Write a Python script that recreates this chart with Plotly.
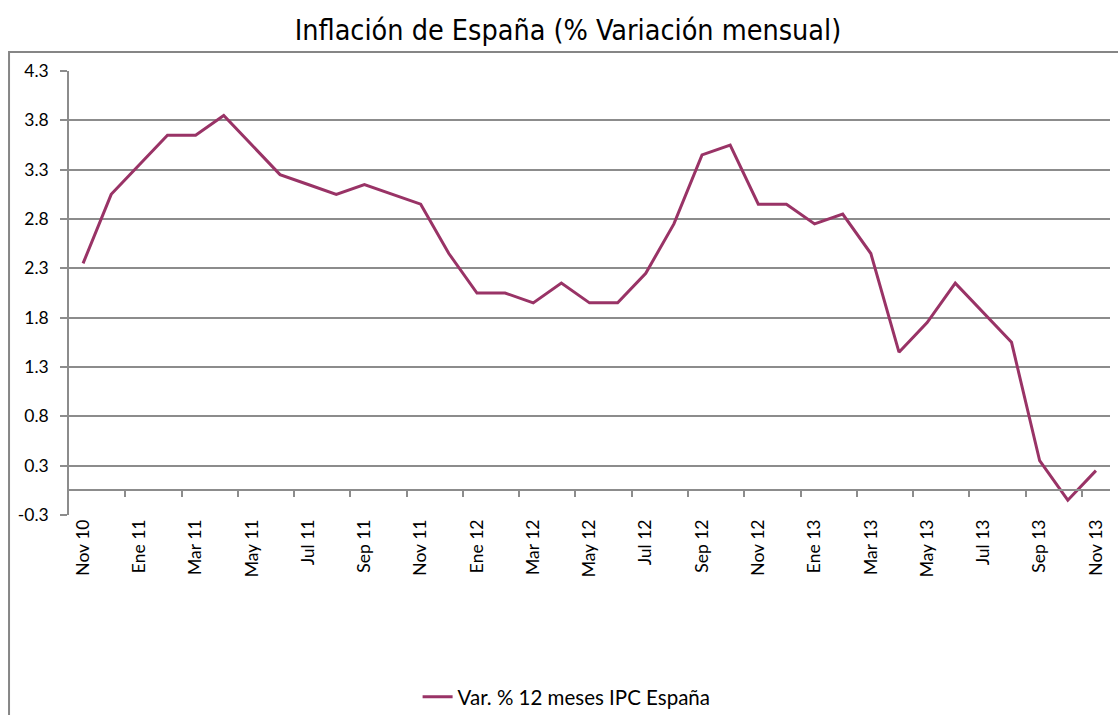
import plotly.graph_objects as go

months = ["Nov 10", "Dic 10", "Ene 11", "Feb 11", "Mar 11", "Abr 11", "May 11", "Jun 11",
          "Jul 11", "Ago 11", "Sep 11", "Oct 11", "Nov 11", "Dic 11", "Ene 12", "Feb 12",
          "Mar 12", "Abr 12", "May 12", "Jun 12", "Jul 12", "Ago 12", "Sep 12", "Oct 12",
          "Nov 12", "Dic 12", "Ene 13", "Feb 13", "Mar 13", "Abr 13", "May 13", "Jun 13",
          "Jul 13", "Ago 13", "Sep 13", "Oct 13", "Nov 13"]
ipc = [2.3, 3.0, 3.3, 3.6, 3.6, 3.8, 3.5, 3.2, 3.1, 3.0, 3.1, 3.0, 2.9, 2.4, 2.0, 2.0,
       1.9, 2.1, 1.9, 1.9, 2.2, 2.7, 3.4, 3.5, 2.9, 2.9, 2.7, 2.8, 2.4, 1.4, 1.7, 2.1,
       1.8, 1.5, 0.3, -0.1, 0.2]
y_ticks = [-0.25, 0.25, 0.75, 1.25, 1.75, 2.25, 2.75, 3.25, 3.75, 4.25]
y_labels = ["-0.3", "0.3", "0.8", "1.3", "1.8", "2.3", "2.8", "3.3", "3.8", "4.3"]
series_name = "Var. % 12 meses IPC España"
title = "Inflación de España (% Variación mensual)"

x = list(range(len(months)))
ymin, ymax = y_ticks[0], y_ticks[-1]
grid = "#8c8c8c"
line_color = "#993366"
tick_font = dict(family="Lato, Calibri, sans-serif", size=17.5, color="#000000")

fig = go.Figure()
fig.add_trace(go.Scatter(x=x, y=ipc, mode="lines", name=series_name,
                         line=dict(color=line_color, width=3)))
# invisible trace to activate the second x axis (tick marks on the zero line)
fig.add_trace(go.Scatter(x=[x[0]], y=[0], xaxis="x2", mode="none",
                         showlegend=False, hoverinfo="skip"))

fig.update_layout(
    width=1118, height=715,
    margin=dict(l=69, r=8, t=71, b=200, autoexpand=False),
    paper_bgcolor="white", plot_bgcolor="white",
    title=dict(text=title, x=0.508, xanchor="center", y=0.958, yanchor="middle",
               font=dict(family="DejaVu Sans Condensed, Liberation Sans Narrow, sans-serif",
                         size=28.5, color="#000000")),
    xaxis=dict(range=[-0.5, len(months) - 0.5], tickmode="array",
               tickvals=x[::2], ticktext=months[::2], tickangle=-90,
               showgrid=False, zeroline=False, showline=False, ticks="",
               tickfont=tick_font, automargin=False),
    xaxis2=dict(overlaying="x", anchor="free", position=(0 - ymin) / (ymax - ymin),
                range=[-0.5, len(months) - 0.5], tickmode="array",
                tickvals=[v + 1.5 for v in x[::2]][:-1], showticklabels=False,
                showgrid=False, zeroline=False, showline=True, linecolor=grid,
                linewidth=1.5, ticks="outside", ticklen=6, tickcolor=grid, tickwidth=1.5,
                automargin=False),
    yaxis=dict(range=[ymin, ymax], tickmode="array", tickvals=y_ticks, ticktext=y_labels,
               showgrid=True, gridcolor=grid, gridwidth=1.5, zeroline=False,
               showline=True, linecolor=grid, linewidth=1.5,
               ticks="outside", ticklen=7, tickcolor=grid, tickwidth=1.5,
               ticklabelstandoff=8, tickfont=tick_font, automargin=False),
    showlegend=True,
    legend=dict(orientation="h", x=0.478, xanchor="center", y=-0.41, yanchor="middle",
                font=dict(family="Lato, Calibri, sans-serif", size=20.5, color="#000000"),
                bgcolor="rgba(0,0,0,0)"),
    shapes=[dict(type="rect", xref="paper", yref="paper",
                 x0=-0.0576, x1=1.05, y0=-0.6, y1=1.043,
                 line=dict(color="#868686", width=2), layer="below")],
)

fig.write_html("out.html", config={"displayModeBar": False},
               post_script="document.body.style.margin='0';document.body.style.overflow='hidden';")
